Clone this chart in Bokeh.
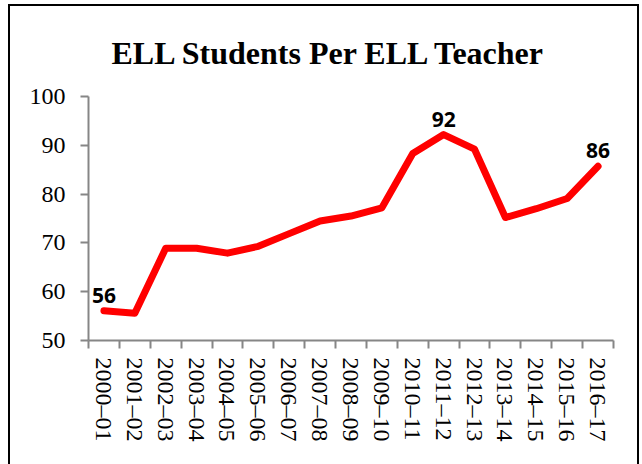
from bokeh.plotting import figure
from bokeh.models import FixedTicker, ColumnDataSource, Range1d, InlineStyleSheet
from bokeh.core.properties import value
from bokeh.embed import file_html
from bokeh.resources import INLINE

years = ["2000–01", "2001–02", "2002–03", "2003–04", "2004–05", "2005–06",
         "2006–07", "2007–08", "2008–09", "2009–10", "2010–11", "2011–12",
         "2012–13", "2013–14", "2014–15", "2015–16", "2016–17"]
students_per_teacher = [56.1, 55.6, 68.9, 68.9, 67.9, 69.3, 71.9, 74.5, 75.5,
                        77.2, 88.3, 92.2, 89.2, 75.2, 77.0, 79.1, 85.7]
label_index = [0, 11, 16]
label_text = ["56", "92", "86"]
y_ticks = [50, 60, 70, 80, 90, 100]

xs = list(range(len(years)))

p = figure(width=642, height=464, output_backend="svg", toolbar_location=None,
           x_range=Range1d(-0.5, len(years) - 0.5), y_range=Range1d(50, 100),
           min_border_left=88, min_border_right=29, min_border_top=96,
           min_border_bottom=124,
           title="ELL Students Per ELL Teacher")
p.outline_line_color = None
p.xgrid.visible = False
p.ygrid.visible = False
p.background_fill_color = "white"
p.border_fill_color = "white"

p.stylesheets = [InlineStyleSheet(css="""
:host::after {
  content: "";
  position: absolute;
  left: 8px;
  top: 4px;
  width: 631px;
  height: 460px;
  border: 2px solid black;
  border-bottom: none;
  box-sizing: border-box;
  pointer-events: none;
  z-index: 100;
}
""")]

p.title.text_font = "Liberation Serif"
p.title.text_font_style = "bold"
p.title.text_font_size = "32px"
p.title.text_color = "black"
p.title.align = "left"
p.title.offset = 23
p.title.vertical_align = "middle"
p.title.standoff = 49

src = ColumnDataSource(dict(x=xs, y=students_per_teacher))
p.line("x", "y", source=src, line_color="#FF0000", line_width=7,
       line_cap="round", line_join="round")

lsrc = ColumnDataSource(dict(x=[xs[i] for i in label_index],
                             y=[students_per_teacher[i] for i in label_index],
                             t=label_text))
p.text("x", "y", text="t", source=lsrc, text_font=value("Open Sans"),
       text_font_style="bold", text_font_size="21px", text_color="black",
       text_align="center", text_baseline="bottom", y_offset=-8)

# y axis
ya = p.yaxis[0]
ya.ticker = FixedTicker(ticks=y_ticks, minor_ticks=[])
ya.axis_line_color = "#868686"
ya.axis_line_width = 2
ya.major_tick_line_color = "#868686"
ya.major_tick_line_width = 2
ya.major_tick_out = 8
ya.major_tick_in = 0
ya.minor_tick_line_color = None
ya.major_label_text_font = "Liberation Serif"
ya.major_label_text_font_size = "24px"
ya.major_label_text_color = "black"
ya.major_label_standoff = 15

# x axis
xa = p.xaxis[0]
xa.ticker = FixedTicker(ticks=xs, minor_ticks=[i - 0.5 for i in range(len(years) + 1)])
xa.major_label_overrides = {i: y for i, y in enumerate(years)}
xa.major_label_orientation = "vertical"
xa.axis_line_color = "#868686"
xa.axis_line_width = 2
xa.major_tick_line_color = None
xa.major_tick_out = 0
xa.major_tick_in = 0
xa.minor_tick_line_color = "#868686"
xa.minor_tick_line_width = 2
xa.minor_tick_out = 8
xa.minor_tick_in = 0
xa.major_label_text_font = "Liberation Serif"
xa.major_label_text_font_size = "24px"
xa.major_label_text_color = "black"
xa.major_label_standoff = 9

open("out.html", "w").write(file_html(p, INLINE))
